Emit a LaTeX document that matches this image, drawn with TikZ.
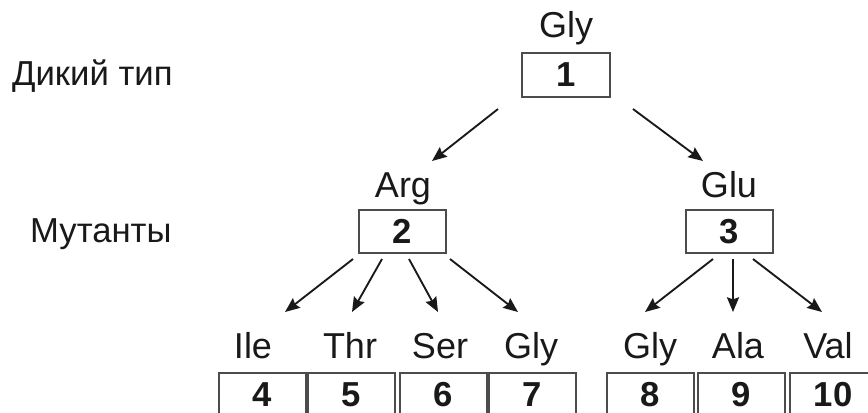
\documentclass[tikz,border=0pt]{standalone}
\usepackage{fontspec}
\setmainfont{Liberation Sans}
\usetikzlibrary{arrows.meta,calc}

\tikzset{every picture/.style={line width=0.75pt}}
\tikzset{
	cell/.style={draw=black!70, line width=1.5pt, minimum width=65.25pt, minimum height=32.25pt,
		inner sep=0pt, font=\fontsize{26}{30}\selectfont\bfseries, text=black!90},
	aa/.style={font=\fontsize{27}{32}\selectfont, text=black!90, anchor=base, inner sep=0pt},
	side/.style={font=\fontsize{26}{30}\selectfont, text=black!90, anchor=base east, inner sep=0pt},
	arr/.style={draw=black!90, line width=1.4pt, -{Stealth[length=11pt,width=9pt,inset=1.5pt]}}}

\begin{document}
\begin{tikzpicture}[x=0.75pt,y=0.75pt,yscale=-1,xscale=1]
	\useasboundingbox (0,0) rectangle (868,412);

	% Side labels
	\node[side] (wild) at (173,85) {Дикий тип};
	\node[side] (mut) at (172,242) {Мутанты};

	% Wild type
	\node[aa] (a1) at (566,37) {Gly};
	\node[cell, minimum width=66pt, minimum height=33pt] (b1) at (566,75) {1};

	% First mutants
	\node[aa] (a2) at (403,197) {Arg};
	\node[cell] (b2) at (402.5,231.5) {2};
	\node[aa] (a3) at (729,197) {Glu};
	\node[cell] (b3) at (729.5,231.5) {3};

	% Second mutants
	\node[aa] (a4) at (253,358) {Ile};
	\node[cell] (b4) at (262.5,394.5) {4};
	\node[aa] (a5) at (350,358) {Thr};
	\node[cell] (b5) at (351.5,394.5) {5};
	\node[aa] (a6) at (440,358) {Ser};
	\node[cell] (b6) at (443,394.5) {6};
	\node[aa] (a7) at (531,358) {Gly};
	\node[cell] (b7) at (532.5,394.5) {7};
	\node[aa] (a8) at (650,358) {Gly};
	\node[cell] (b8) at (650.5,394.5) {8};
	\node[aa] (a9) at (738,358) {Ala};
	\node[cell] (b9) at (741,394.5) {9};
	\node[aa] (a10) at (828,358) {Val};
	\node[cell] (b10) at (833,394.5) {10};

	% Arrows
	\draw[arr] ($(b1.south)+(-68,11)$) -- ($(b2.north)+(29.5,-48)$);
	\draw[arr] ($(b1.south)+(67,11)$) -- ($(b3.north)+(-26.5,-48)$);

	\draw[arr] ($(b2.south)+(-49.5,5)$) -- ($(b4.north)+(22.5,-60)$);
	\draw[arr] ($(b2.south)+(-20.5,5)$) -- ($(b5.north)+(0.5,-60)$);
	\draw[arr] ($(b2.south)+(6.5,5)$) -- ($(b6.north)+(-5,-60)$);
	\draw[arr] ($(b2.south)+(47.5,5)$) -- ($(b7.north)+(-14.5,-60)$);

	\draw[arr] ($(b3.south)+(-16.5,5)$) -- ($(b8.north)+(-5.5,-60)$);
	\draw[arr] ($(b3.south)+(3.5,5)$) -- ($(b9.north)+(-8,-60)$);
	\draw[arr] ($(b3.south)+(23.5,5)$) -- ($(b10.north)+(-11,-60)$);

\end{tikzpicture}
\end{document}
